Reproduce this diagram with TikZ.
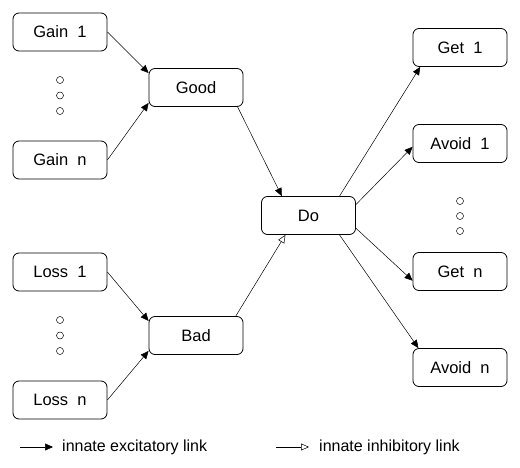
\documentclass[tikz,border=0pt]{standalone}
\usepackage{fontspec}
\setmainfont{Liberation Sans}
\usetikzlibrary{arrows.meta}
\begin{document}
\begin{tikzpicture}[x=1pt,y=-1pt,
  box/.style={draw,line width=0.8pt,rounded corners=6pt,minimum width=94pt,minimum height=38pt,inner sep=0pt,font=\fontsize{16.5}{19}\selectfont},
  exc/.style={-{Triangle[length=8pt,width=7pt]},line width=0.5pt},
  inh/.style={-{Triangle[open,length=8pt,width=7pt]},line width=0.5pt},
  dot/.style={circle,draw,line width=0.5pt,minimum size=7pt,inner sep=0pt},
  legend/.style={anchor=west,inner sep=0pt,font=\fontsize{16}{18}\selectfont}]
\useasboundingbox (0,0) rectangle (520,468);
\node[box] (gain1) at (60,32) {Gain\ \ 1};
\node[box] (gainn) at (60,160) {Gain\ \ n};
\node[box] (good) at (196,87.5) {Good};
\node[box] (loss1) at (60,272) {Loss\ \ 1};
\node[box] (lossn) at (60,400) {Loss\ \ n};
\node[box] (bad) at (196,335.5) {Bad};
\node[box] (do) at (308.5,215.5) {Do};
\node[box] (get1) at (460,47.5) {Get\ \ 1};
\node[box] (avoid1) at (460,143.5) {Avoid\ \ 1};
\node[box] (getn) at (460,271.5) {Get\ \ n};
\node[box] (avoidn) at (460,367.5) {Avoid\ \ n};
\node[dot] (g1) at (60,80) {};
\node[dot] (g2) at (60,95.5) {};
\node[dot] (g3) at (60,111) {};
\node[dot] (l1) at (60,320) {};
\node[dot] (l2) at (60,335.5) {};
\node[dot] (l3) at (60,351) {};
\node[dot] (r1) at (460,201) {};
\node[dot] (r2) at (460,216) {};
\node[dot] (r3) at (460,231) {};
\draw[exc] (gain1.east) -- (good.163);
\draw[exc] (gainn.east) -- (good.198);
\draw[exc] (loss1.east) -- (bad.163);
\draw[exc] (lossn.east) -- (bad.198);
\draw[exc] (good.-25) -- (do.144);
\draw[inh] (bad.26) -- (do.220);
\draw[exc] (do.32) -- (get1.206);
\draw[exc] (do.13) -- (avoid1.184);
\draw[exc] (do.-15) -- (getn.191);
\draw[exc] (do.-32) -- (avoidn.155);
\coordinate (e1) at (20,447);
\coordinate (e2) at (53,447);
\coordinate (i1) at (276,447);
\coordinate (i2) at (309,447);
\draw[exc] (e1) -- (e2);
\draw[inh] (i1) -- (i2);
\node[legend] (lexc) at (62,447) {innate excitatory link};
\node[legend] (linh) at (319,447) {innate inhibitory link};
\end{tikzpicture}
\end{document}
